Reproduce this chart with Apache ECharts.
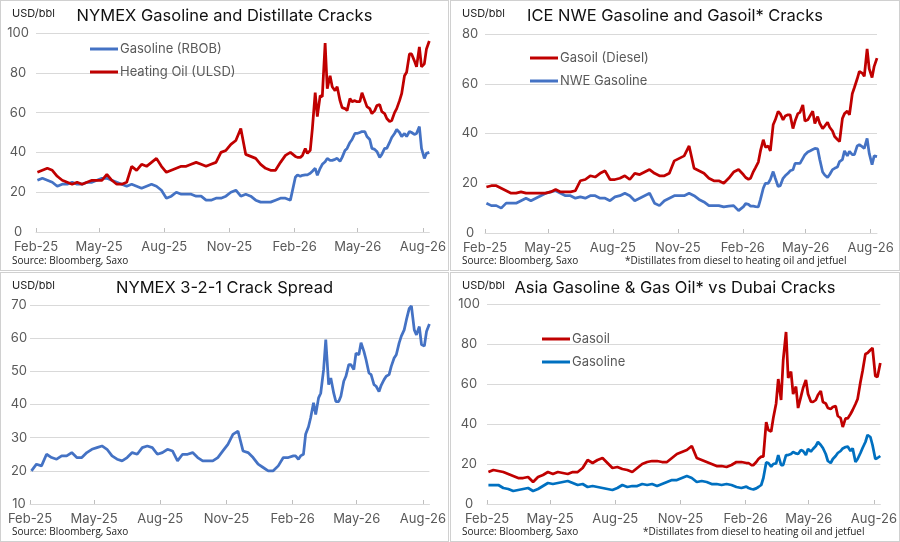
<!DOCTYPE html>
<html>
<head>
<meta charset="utf-8">
<script src="https://cdn.jsdelivr.net/npm/echarts@6/dist/echarts.min.js"></script>
<style>
  html, body { margin: 0; padding: 0; background: #fff; }
  .panel { position: absolute; outline: 1px solid #d0d0d0; outline-offset: -1px; }
</style>
</head>
<body>
<div id="p1" class="panel" style="left:0;top:0;width:449px;height:271px"></div>
<div id="p2" class="panel" style="left:450px;top:0;width:450px;height:271px"></div>
<div id="p3" class="panel" style="left:0;top:272px;width:449px;height:270px"></div>
<div id="p4" class="panel" style="left:450px;top:272px;width:450px;height:270px"></div>
<script>
// observation dates: weekly (Mondays) to end of Jan 2026, then Mon + Thu
const weeklyDates = Array.from({ length: 52 }, (_, i) => Date.UTC(2025, 1, 3 + 7 * i));
const semiDates = Array.from({ length: 55 }, (_, k) => Date.UTC(2026, 1, 2 + 7 * Math.floor(k / 2) + 3 * (k % 2)));
const obsDates = weeklyDates.concat(semiDates);

const tickDates = [
  Date.UTC(2025, 1, 1), Date.UTC(2025, 4, 1), Date.UTC(2025, 7, 1), Date.UTC(2025, 10, 1),
  Date.UTC(2026, 1, 1), Date.UTC(2026, 4, 1), Date.UTC(2026, 7, 1)
];
const monthNames = ['Jan','Feb','Mar','Apr','May','Jun','Jul','Aug','Sep','Oct','Nov','Dec'];

// NYMEX cracks
const rbob = [26,27,26,25,23,24,24,25,24,24, 25,25,26,27,27,26,25,24,23,24,
  23,22,23,24,23,21,17,18,20,19, 19,19,18,18,16,16,17,17,18,20,
  21,18,19,18,16,15,15,15,16,17, 17,16,
  27.5,28.7,28,28.5,28.7,28.7,29.5,30.5,32,28.5, 32,34,35.3,37,36,36,36.5,37,35.5,37.5,
  41,42,45,46.5,49.5,49.5,50,50.5,50.5,48, 46.5,42,41.5,40.5,37.5,39,42,42,45,47.5,
  49.5,51.5,50,48,49.5,48,50.5,50,49,49.5, 53,42,37,39.5,40];
const ulsd = [30,31,32,31,28,26,25,24,25,24, 25,26,26,26,29,26,24,24,25,33,
  31,34,33,35,37,33,30,31,32,33, 33,34,35,34,33,34,35,40,41,44,
  46,52,39,38,37,34,32,31,31,35, 38.5,40,
  38,37.5,37.5,38.5,42,39.5,41,52,70,58, 68.5,68,95,72,78.5,73,71,73,66,62.5,
  62,61,67,65.5,66,65.5,65.5,70,66,63, 62,59.5,61,63.5,64,60.5,59.5,57,55.5,56,
  60,62,66,69.5,78.5,80.3,89.5,89.5,86,83, 93,83,84.5,92,96];

// ICE NWE cracks
const gasoilIce = [18.5,19,19,18,17,16,16,16.5,16,16, 16,16,16,16.5,17.5,16.5,16.5,16.5,17,21,
  21.5,23,22.5,24,25,21.5,21.5,22,23,21.5, 24,23.5,24.5,25.5,24,23,23,24,29,30,
  31,35,26,25,24,22,21,21,20,22, 24.5,25.5,
  23.4,22.3,21.6,22,24.7,26.3,28.5,33,37.5,34.5, 35,33,43.5,45.5,48.9,48,45.5,47,47.5,47.5,
  42,45,48,48.5,51.5,45,45.5,47,49,44, 46.8,44,42,43,44.5,42.5,41,38.8,37.6,36.8,
  46,48,49,47.5,56,58.5,62,65,64.3,63, 74,66,62.5,67,70.3];
const nweGasoline = [12,11,11,10,12,12,12,13,14,13, 14,15,16,16.5,17,16,15,15,14,14.5,
  14,15,15,14,14,13,14.5,15,16,15, 13,14,15,16,12,11,13,14,15,15,
  15,16,15,13.5,12.5,11,11,11,10.5,10.8, 11,9,
  10.6,11.8,11.5,10.8,10.8,10.6,10.5,13.5,18,20, 20,21.5,24.7,22,18.7,19,22,23,24,25,
  25.4,28,28,28,30,31.5,32.6,33,33.6,34, 33.8,29.5,24.5,23.3,22.3,23.5,25.5,26,26.5,28.7,
  29.5,33,31,32.8,31.5,31.5,35,35.5,34.7,34, 38,32,27.5,31,30.7];

// NYMEX 3-2-1
const crack321 = [20,22,21.5,25,24,23.5,24.5,24.5,25.5,24, 24,25.5,26.5,27,27.5,26.5,24.5,23.5,23,24,
  25.5,25,27,27.5,27,25,25.5,26.5,26,23, 25,25,25.5,24,23,23,23,24,26,28,
  31,32,26,25.5,24,22,21,20,20,21.5, 24,24,
  24.5,24.5,23.5,24.5,25,31,33.3,36,40.5,37, 42,43.4,50.5,59.6,46,48,43.5,40.9,40.9,42.5,
  47,48.5,52,52,50.5,55.5,55,58.6,56,53.5, 49.5,49,46,45.5,43.9,45.8,47.5,48.5,49,51.5,
  54,55,58.6,60.6,62.5,65.5,69,69.7,62.5,61, 63.5,58.1,57.6,62,64.3];

// Asia vs Dubai
const asiaGasoil = [16,17,16.5,16,15,14,13,13,13.5,11, 13.5,14.5,16,15,16,15.5,15,16,16,18,
  22,20.5,22,23,20.5,18,18.5,17.5,17,16, 18,20,21,21.5,21.5,21,21,23,25,26,
  27,29,23,22,21,20,19,19,18.5,19.5, 21,21,
  20.5,20.5,19.5,19.5,21,22.5,23.7,23.7,41,37, 36.2,43,50.3,62.5,52,72,86,63,66.2,55,
  58.7,48,53.7,58,62,55,51.2,51,52,54.5, 56.5,51,50.3,48,47.5,48.5,49,44,43,38.5,
  42.8,42.8,45,47,50,52.5,61,66.5,75,75.5, 77,78,64,63.5,70.5];
const asiaGasoline = [9.5,9.5,9.5,8,7.5,6.5,7,7.5,8,6.5, 7.5,9,10.5,10,10.5,11,11.5,10.5,9.5,10,
  8.5,9,8.5,8,7.5,7,8,9.5,8.5,9, 9,10,9.5,10,9,10,11,12,12,13,
  14,13,11,11.5,11,10,10,9.5,10,9.5, 8.5,8,
  8.7,8,7.5,7.3,7.8,8.5,9.5,13,20.8,20.5, 18.7,20,20.3,24.5,19.5,19.5,24.5,24.5,25,26,
  25.3,25,27,26.5,24.5,27.5,26.2,27.5,29,31, 29.5,28,25,21.5,20.5,22.5,24,25.5,26.5,27.8,
  28.5,28.7,26.5,27.8,21,22.5,25.5,28,31,34.5, 33.5,29.5,22.5,23,24];

const BLUE = '#4472C4', RED = '#C00000', BLUE2 = '#0070C0';
const NOTE = '*Distillates from diesel to heating oil and jetfuel';

function pairs(vals) {
  return vals.map((v, i) => [obsDates[i], v]);
}

function monthLabel(v) {
  const d = new Date(v);
  return monthNames[d.getUTCMonth()] + '-' + String(d.getUTCFullYear()).slice(2);
}

function buildChart(id, cfg) {
  const chart = echarts.init(document.getElementById(id));
  const graphic = [
    { type: 'text', left: 12, top: 8, style: { text: 'USD/bbl', font: '11px Inter', fill: '#222' } },
    { type: 'text', left: 12, top: cfg.srcTop, style: { text: 'Source: Bloomberg, Saxo', font: '10px "Open Sans"', fill: '#222' } }
  ];
  if (cfg.note) {
    graphic.push({ type: 'text', left: cfg.noteLeft, top: cfg.srcTop, style: { text: NOTE, font: '10px "Open Sans"', fill: '#222' } });
  }
  chart.setOption({
    animation: false,
    title: {
      text: cfg.title, left: 'center', top: 3,
      textStyle: { fontFamily: 'Inter', fontSize: 16.5, fontWeight: 'normal', color: '#111' }
    },
    legend: cfg.legend ? {
      orient: 'vertical', left: cfg.legend.left, top: cfg.legend.top, padding: 0,
      icon: 'rect', itemWidth: 28, itemHeight: 3, itemGap: 9,
      textStyle: { fontFamily: 'Inter', fontSize: 13, color: '#595959', lineHeight: 14, padding: [0, 0, 0, -3] },
      data: cfg.legend.names
    } : { show: false },
    grid: cfg.grid,
    xAxis: {
      type: 'value',
      min: tickDates[0],
      max: Date.UTC(2026, 7, 10),
      axisLine: { lineStyle: { color: '#d9d9d9' } },
      axisTick: { show: true, inside: true, length: 4, customValues: tickDates, lineStyle: { color: '#bfbfbf' } },
      axisLabel: {
        customValues: tickDates, color: '#595959', fontSize: 13, fontFamily: 'Inter', margin: 9,
        formatter: monthLabel
      },
      splitLine: { show: false }
    },
    yAxis: {
      type: 'value', min: cfg.yMin, max: cfg.yMax, interval: cfg.yInterval,
      axisLine: { show: false }, axisTick: { show: false },
      axisLabel: { color: '#595959', fontSize: 13, fontFamily: 'Inter', align: 'center', margin: cfg.yLabelMargin },
      splitLine: { lineStyle: { color: '#d9d9d9' } }
    },
    series: cfg.series.map(s => ({
      name: s.name, type: 'line', data: pairs(s.data),
      showSymbol: false, symbol: 'none',
      lineStyle: { color: s.color, width: 2.75 },
      itemStyle: { color: s.color }
    })),
    graphic: graphic
  });
}

buildChart('p1', {
  title: 'NYMEX Gasoline and Distillate Cracks',
  grid: { left: 36, top: 33, width: 400, height: 199 },
  yMin: 0, yMax: 100, yInterval: 20, yLabelMargin: 18,
  legend: { left: 90, top: 42, names: ['Gasoline (RBOB)', 'Heating Oil (ULSD)'] },
  srcTop: 256,
  series: [
    { name: 'Gasoline (RBOB)', data: rbob, color: BLUE },
    { name: 'Heating Oil (ULSD)', data: ulsd, color: RED }
  ]
});

buildChart('p2', {
  title: 'ICE NWE Gasoline and Gasoil* Cracks',
  grid: { left: 35, top: 34, width: 392, height: 199 },
  yMin: 0, yMax: 80, yInterval: 20, yLabelMargin: 15,
  legend: { left: 80, top: 51, names: ['Gasoil (Diesel)', 'NWE Gasoline'] },
  srcTop: 256, note: true, noteLeft: 175,
  series: [
    { name: 'NWE Gasoline', data: nweGasoline, color: BLUE },
    { name: 'Gasoil (Diesel)', data: gasoilIce, color: RED }
  ]
});

buildChart('p3', {
  title: 'NYMEX 3-2-1 Crack Spread',
  grid: { left: 30, top: 33, width: 405, height: 199 },
  yMin: 10, yMax: 70, yInterval: 10, yLabelMargin: 11,
  legend: null,
  srcTop: 255,
  series: [
    { name: '3-2-1', data: crack321, color: BLUE }
  ]
});

buildChart('p4', {
  title: 'Asia Gasoline & Gas Oil* vs Dubai Cracks',
  grid: { left: 37, top: 32, width: 394, height: 200 },
  yMin: 0, yMax: 100, yInterval: 20, yLabelMargin: 18,
  legend: { left: 92, top: 60, names: ['Gasoil', 'Gasoline'] },
  srcTop: 255, note: true, noteLeft: 193,
  series: [
    { name: 'Gasoline', data: asiaGasoline, color: BLUE2 },
    { name: 'Gasoil', data: asiaGasoil, color: RED }
  ]
});
</script>
</body>
</html>
